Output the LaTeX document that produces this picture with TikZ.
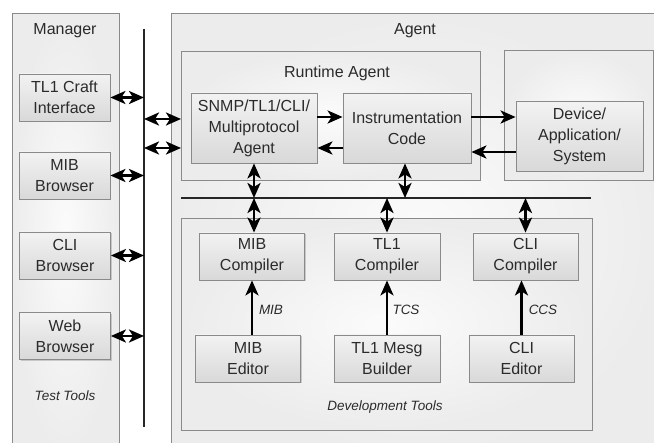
\documentclass[tikz,border=0pt]{standalone}
\usepackage{fontspec}
\setmainfont{Liberation Sans}
\usetikzlibrary{arrows.meta,shadows}
\definecolor{txt}{HTML}{2B2B2B}
\definecolor{edge}{HTML}{8A8A8A}
\begin{document}
\begin{tikzpicture}[x=1pt,y=-1pt,
  outer/.style={draw=edge, line width=0.8pt, inner color=gray!3, outer color=gray!15, inner sep=0pt, anchor=north west},
  box/.style={draw=edge, line width=0.8pt, top color=gray!10, bottom color=gray!30,
    drop shadow={shadow xshift=1.3pt, shadow yshift=-1.3pt, opacity=0.35},
    text=txt, align=center, inner sep=0pt, font=\fontsize{16}{21}\selectfont},
  title/.style={text=txt, font=\fontsize{16}{21}\selectfont, inner sep=0pt},
  lbl/.style={text=txt, font=\fontsize{13.5}{16}\selectfont\itshape, inner sep=0pt},
  dbl/.style={line width=2.8pt, arrows={Stealth[length=15pt,width=13pt,inset=4pt]-Stealth[length=15pt,width=13pt,inset=4pt]}},
  sgl/.style={line width=2.8pt, arrows={-Stealth[length=15pt,width=13pt,inset=4pt]}},
  bus/.style={line width=1.3pt, draw=black!85}
]
\useasboundingbox (0,0) rectangle (654,443);
\clip (0,0) rectangle (654,443);
\fill[white] (0,0) rectangle (654,443);

% containers
\node[outer, minimum width=107, minimum height=445] (manager) at (12,13) {};
\node[outer, minimum width=495, minimum height=445] (agent) at (171,13) {};
\node[outer, minimum width=299, minimum height=129] (runtime) at (181,51) {};
\node[outer, minimum width=149, minimum height=130] (devwrap) at (504,50) {};
\node[outer, minimum width=411, minimum height=212] (devtools) at (181,218) {};

% titles
\node[title] (tman) at (65,31) {Manager};
\node[title] (tagent) at (415,31) {Agent};
\node[title] (trun) at (337,73) {Runtime Agent};
\node[lbl] (ttest) at (65,396) {Test Tools};
\node[lbl] (tdev) at (385,407) {Development Tools};

% buses
\coordinate (busT) at (144,29);
\coordinate (busB) at (144,427);
\draw[bus] (busT) -- (busB);
\coordinate (hbL) at (181,198);
\coordinate (hbR) at (591,198);
\draw[bus] (hbL) -- (hbR);

% manager boxes
\node[box, minimum width=91, minimum height=47] (tl1c) at (64.5,97.5) {TL1 Craft\\Interface};
\node[box, minimum width=91, minimum height=47] (mibb) at (64.5,175.5) {MIB\\Browser};
\node[box, minimum width=91, minimum height=47] (clib) at (65,255.5) {CLI\\Browser};
\node[box, minimum width=91, minimum height=47] (webb) at (65,336) {Web\\Browser};

% runtime boxes
\node[box, minimum width=126, minimum height=70] (snmp) at (254,128) {SNMP/TL1/CLI/\\Multiprotocol\\Agent};
\node[box, minimum width=128, minimum height=70] (instr) at (407,128) {Instrumentation\\Code};
\node[box, minimum width=127, minimum height=70] (device) at (579.5,136) {Device/\\Application/\\System};

% development boxes
\node[box, minimum width=105, minimum height=47] (mibc) at (252,256.5) {MIB\\Compiler};
\node[box, minimum width=105, minimum height=47] (mibe) at (248,358.5) {MIB\\Editor};
\node[box, minimum width=106, minimum height=47] (tl1comp) at (387,256.5) {TL1\\Compiler};
\node[box, minimum width=106, minimum height=47] (tl1m) at (387,358.5) {TL1 Mesg\\Builder};
\node[box, minimum width=105, minimum height=47] (clic) at (525.5,256.5) {CLI\\Compiler};
\node[box, minimum width=105, minimum height=47] (clie) at (521.5,358.5) {CLI\\Editor};

% manager arrows to bus
\draw[dbl] (tl1c.east) -- (tl1c.east -| busT);
\draw[dbl] (mibb.east) -- (mibb.east -| busT);
\draw[dbl] (clib.east) -- (clib.east -| busT);
\draw[dbl] (webb.east) -- (webb.east -| busT);

% bus to runtime
\coordinate (r1) at (144,119);
\coordinate (r2) at (144,148);
\draw[dbl] (r1) -- (r1 -| runtime.west);
\draw[dbl] (r2) -- (r2 -| runtime.west);

% runtime internal
\coordinate (y1) at (0,117);
\coordinate (y2) at (0,148);
\coordinate (y3) at (0,152);
\draw[sgl] (snmp.east |- y1) -- (instr.west |- y1);
\draw[sgl] (instr.west |- y2) -- (snmp.east |- y2);
\draw[sgl] (instr.east |- y1) -- (device.west |- y1);
\draw[sgl] (device.west |- y3) -- (instr.east |- y3);

% vertical to bus
\draw[dbl] (snmp.south) -- (snmp.south |- hbL);
\draw[dbl] (instr.south -| 405,0) -- (405,198);
\draw[dbl] (snmp.south |- hbL) -- (snmp.south |- mibc.north);
\draw[dbl] (tl1comp.north |- hbL) -- (tl1comp.north);
\draw[dbl] (clic.north |- hbL) -- (clic.north);

% editor to compiler
\draw[sgl] (mibc.south |- mibe.north) -- (mibc.south);
\draw[sgl] (tl1m.north) -- (tl1comp.south);
\draw[sgl] (clie.north) -- (clie.north |- clic.south);

% labels
\node[lbl] (lmib) at (271,310) {MIB};
\node[lbl] (ltcs) at (406,310) {TCS};
\node[lbl] (lccs) at (543,310) {CCS};
\end{tikzpicture}
\end{document}
